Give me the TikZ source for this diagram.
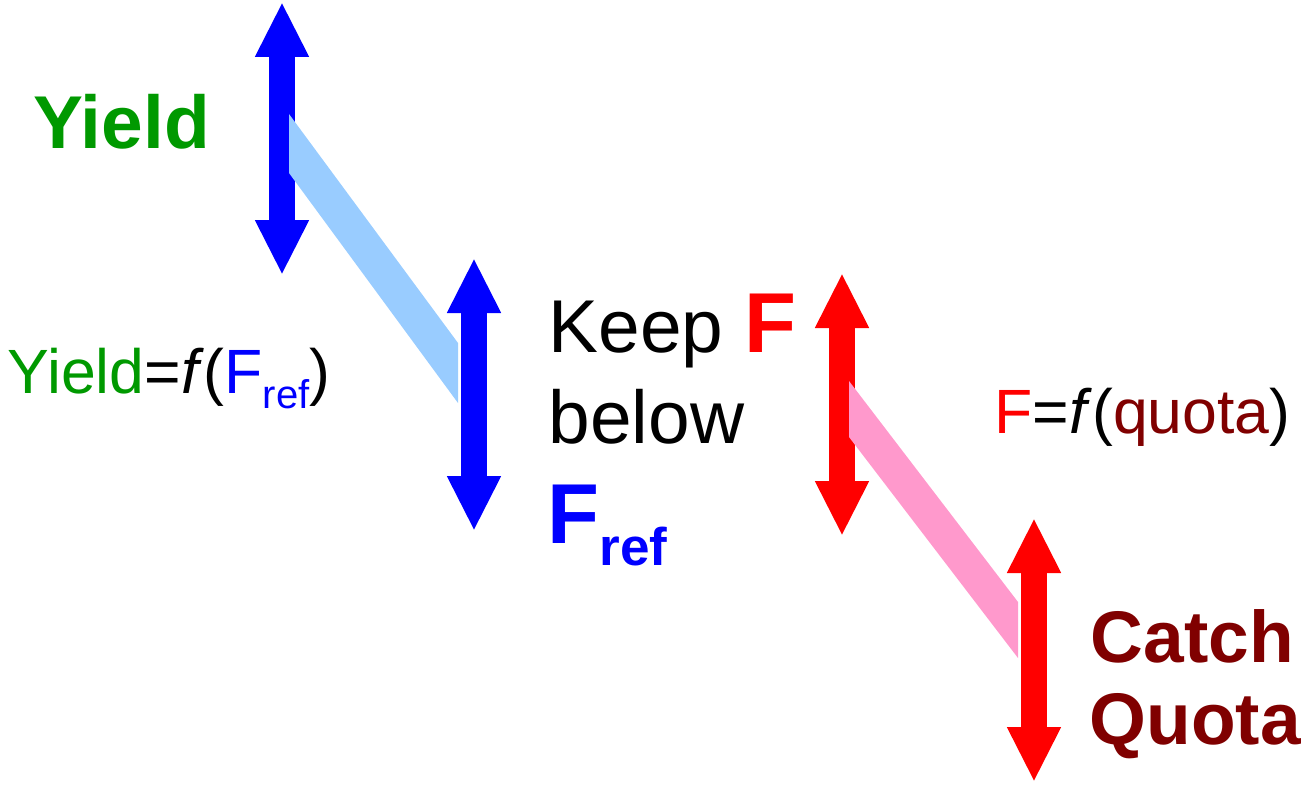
\documentclass[tikz,border=0pt]{standalone}
\usepackage{fontspec}
\setmainfont{Liberation Sans}
\usetikzlibrary{arrows.meta}
\definecolor{yieldgreen}{RGB}{0, 153, 0}
\definecolor{quotared}{RGB}{128, 0, 0}
\definecolor{bandblue}{RGB}{153, 204, 255}
\definecolor{bandpink}{RGB}{255, 153, 204}

\begin{document}
\begin{tikzpicture}[x=0.1mm, y=-0.1mm,
        updown/.style={line width=2.6mm, {Triangle[length=5.5mm, width=5mm]}-{Triangle[length=5.5mm, width=5mm]}},
        lbl/.style={anchor=base west, inner sep=0pt},
        big/.style={font=\fontsize{21.3}{24}\selectfont},
        mid/.style={font=\fontsize{17.8}{20}\selectfont}
    ]
        \useasboundingbox (0,0) rectangle (1301,805);

        % Arrow end points
        \coordinate (yieldtop) at (282, 2);
        \coordinate (yieldbot) at (282, 275);
        \coordinate (freftop) at (474, 258);
        \coordinate (frefbot) at (474, 531);
        \coordinate (ftop) at (842, 273);
        \coordinate (fbot) at (842, 536);
        \coordinate (quotatop) at (1034, 518);
        \coordinate (quotabot) at (1034, 782);

        % Double arrows
        \draw[updown, blue] (yieldtop) -- (yieldbot);
        \draw[updown, blue] (freftop) -- (frefbot);
        \draw[updown, red] (ftop) -- (fbot);
        \draw[updown, red] (quotatop) -- (quotabot);

        % Bands
        \fill[bandblue] (289, 114) -- (458, 343) -- (458, 403) -- (289, 173) -- cycle;
        \fill[bandpink] (849, 381) -- (1018, 602) -- (1018, 658) -- (849, 437) -- cycle;

        % Left labels
        \node[lbl, big, text=yieldgreen] (yield) at (33, 149) {\textbf{Yield}};
        \node[lbl, mid] (yieldeq) at (7, 393) {%
            \textcolor{yieldgreen}{Yield}=\textit{f}(\textcolor{blue}{F}\raisebox{-4.5pt}{\fontsize{11.4}{12}\selectfont\color{blue}ref})};

        % Middle labels
        \node[lbl, big] (keep) at (548, 352) {Keep \textcolor{red}{\fontsize{24.2}{26}\selectfont\bfseries F}};
        \node[lbl, big] (below) at (548, 443) {below};
        \node[lbl, text=blue] (fref) at (547, 543) {%
            {\fontsize{24.2}{26}\selectfont\bfseries F}\raisebox{-6.3pt}{\fontsize{15.1}{16}\selectfont\bfseries ref}};

        % Right labels
        \node[lbl, mid] (feq) at (994, 433) {%
            \textcolor{red}{F}=\textit{f}(\textcolor{quotared}{quota})};
        \node[lbl, text=quotared, font=\fontsize{20.8}{24}\selectfont\bfseries] (catch) at (1090, 662) {Catch};
        \node[lbl, text=quotared, font=\fontsize{20.8}{24}\selectfont\bfseries] (quota) at (1089, 744) {Quota};
    \end{tikzpicture}
\end{document}
